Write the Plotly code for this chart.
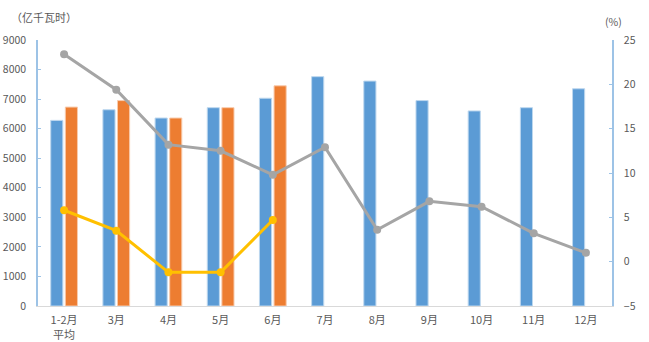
import plotly.graph_objects as go

categories = ["1-2月", "3月", "4月", "5月", "6月", "7月", "8月", "9月", "10月", "11月", "12月"]
category_notes = ["平均", "", "", "", "", "", "", "", "", "", ""]
bar_prev = [6280, 6640, 6360, 6710, 7030, 7760, 7610, 6950, 6600, 6710, 7350]
bar_curr = [6730, 6950, 6360, 6710, 7450, None, None, None, None, None, None]
growth_prev = [23.4, 19.4, 13.2, 12.5, 9.8, 12.9, 3.6, 6.8, 6.2, 3.2, 1.0]
growth_curr = [5.8, 3.5, -1.2, -1.2, 4.7, None, None, None, None, None, None]

left_ticks = [0, 1000, 2000, 3000, 4000, 5000, 6000, 7000, 8000, 9000]
right_ticks = [-5, 0, 5, 10, 15, 20, 25]

BLUE = "#5B9BD5"
ORANGE = "#ED7D31"
GRAY = "#A5A5A5"
YELLOW = "#FFC000"
TXT = "#595959"
FONT = "Noto Sans CJK SC"

fig = go.Figure()
fig.add_trace(go.Bar(x=categories, y=bar_prev, marker=dict(color=BLUE, line=dict(color="#BDD7EE", width=1)), yaxis="y"))
fig.add_trace(go.Bar(x=categories, y=bar_curr, marker=dict(color=ORANGE, line=dict(color="#F8CBAD", width=1)), yaxis="y"))
fig.add_trace(go.Scatter(x=categories, y=growth_prev, mode="lines+markers", line=dict(color=GRAY, width=3),
                         marker=dict(color=GRAY, size=8), yaxis="y2"))
fig.add_trace(go.Scatter(x=categories, y=growth_curr, mode="lines+markers", line=dict(color=YELLOW, width=3),
                         marker=dict(color=YELLOW, size=8), yaxis="y2"))

annotations = [
    dict(text="（亿千瓦时）", xref="paper", yref="paper", x=-0.05, y=1.086, xanchor="left",
         yanchor="middle", showarrow=False, font=dict(size=11, color=TXT)),
    dict(text="(%)", xref="paper", yref="paper", x=1.002, y=1.071, xanchor="center",
         yanchor="middle", showarrow=False, font=dict(size=10.5, color=TXT)),
]
for cat, note in zip(categories, category_notes):
    if note:
        annotations.append(dict(text=note, xref="x", yref="paper", x=cat, y=-0.105, xanchor="center",
                                yanchor="middle", showarrow=False, font=dict(size=11, color=TXT)))

fig.update_layout(
    width=649, height=342,
    margin=dict(l=38, r=37, t=40, b=36),
    paper_bgcolor="white", plot_bgcolor="white",
    showlegend=False,
    barmode="group", bargap=0.44, bargroupgap=0.17,
    font=dict(family=FONT, size=10, color=TXT),
    xaxis=dict(type="category", range=[-0.5, len(categories) - 0.5], showline=True, linecolor="#D9D9D9",
               linewidth=1, ticks="", showgrid=False, tickfont=dict(size=11, color=TXT), automargin=False,
               ticklabelstandoff=4),
    yaxis=dict(range=[0, 9000], tickvals=left_ticks, showgrid=False, zeroline=False, automargin=False,
               showline=True, linecolor="#9DC3E6", linewidth=1.5, ticks="inside", ticklen=3,
               tickcolor="#9DC3E6", tickfont=dict(size=10.5, color=TXT), ticklabelstandoff=8),
    yaxis2=dict(range=[-5, 25], tickvals=right_ticks, overlaying="y", side="right", showgrid=False,
                zeroline=False, showline=True, linecolor="#9DC3E6", linewidth=1.5, ticks="inside",
                automargin=False,
                ticklen=3, tickcolor="#9DC3E6", tickfont=dict(size=10.5, color=TXT), ticklabelstandoff=8),
    annotations=annotations,
)

fig.write_html("out.html")
